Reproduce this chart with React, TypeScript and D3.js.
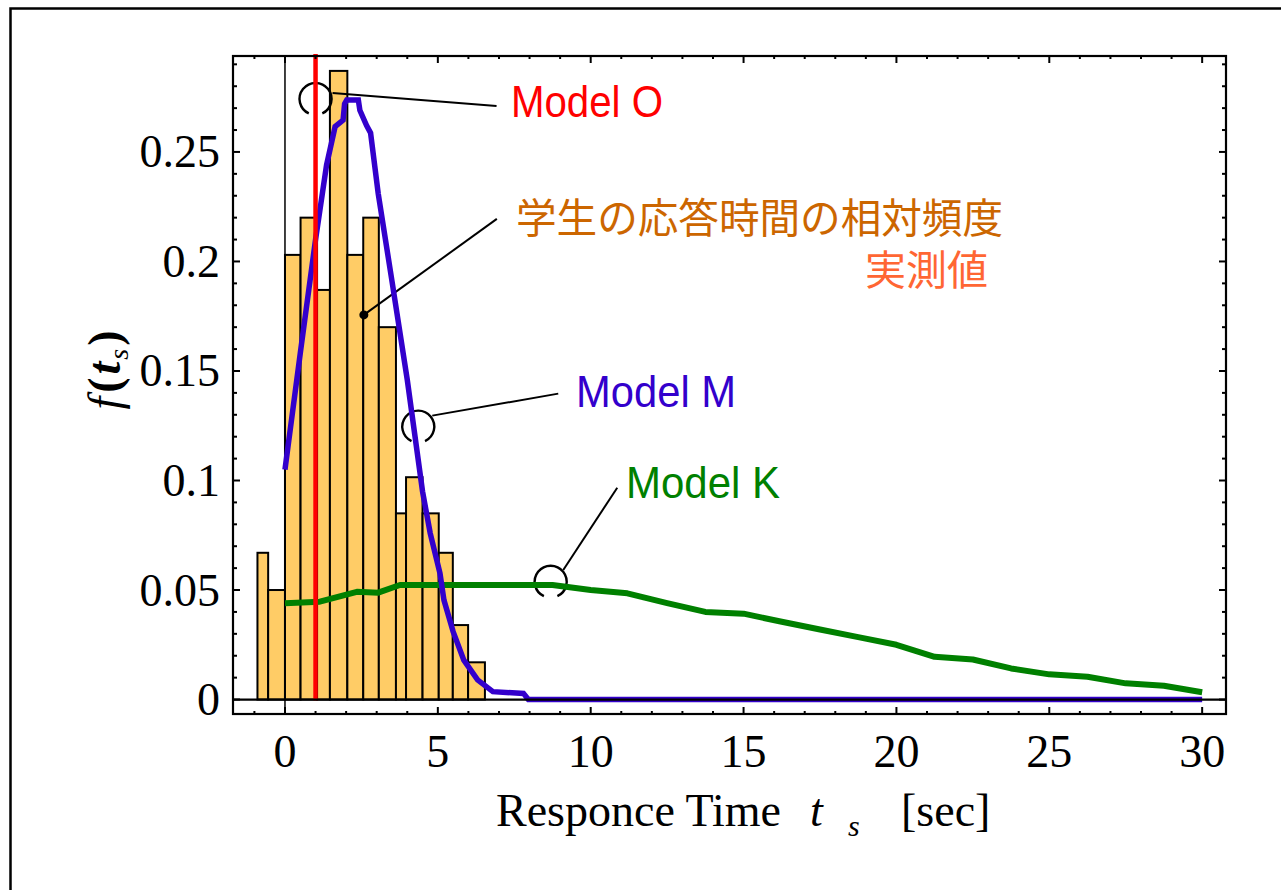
import { scaleLinear, line, range, path as d3path } from 'd3';

// histogram of measured response times (bin edges in sec, relative frequency)
const binEdges = [-0.9, -0.55, 0, 0.51, 1.05, 1.47, 2.04, 2.56, 3.07, 3.63, 3.96, 4.5, 5.03, 5.49, 5.99, 6.54];
const relFreq = [0.067, 0.05, 0.203, 0.22, 0.187, 0.287, 0.203, 0.22, 0.17, 0.085, 0.1015, 0.085, 0.067, 0.034, 0.017];

// Model M curve
const modelMT = [0, 0.5, 1.0, 1.36, 1.64, 1.9, 1.95, 2.02, 2.4, 2.45, 2.67, 2.8, 3.05, 3.5, 4.0, 4.5, 4.75, 5.07, 5.2, 5.5, 5.85, 6.3, 6.8, 7.8, 7.96, 30];
const modelMF = [0.105, 0.158, 0.21, 0.244, 0.2616, 0.2645, 0.272, 0.2737, 0.2737, 0.269, 0.262, 0.2587, 0.231, 0.191, 0.146, 0.095, 0.076, 0.0576, 0.0454, 0.031, 0.018, 0.009, 0.0036, 0.0028, 0, 0];

// Model K curve
const modelKT = [0, 1.14, 2.35, 3.05, 3.76, 8.75, 10, 11.2, 12.5, 13.75, 15, 16.25, 17.5, 18.75, 20, 21.25, 22.5, 23.75, 25, 26.25, 27.5, 28.75, 30];
const modelKF = [0.044, 0.0447, 0.0492, 0.0488, 0.0523, 0.0523, 0.05, 0.0485, 0.044, 0.04, 0.0392, 0.0355, 0.032, 0.0285, 0.025, 0.0195, 0.0183, 0.0142, 0.0115, 0.0104, 0.0074, 0.0063, 0.0033];

// Model O: single response time
const modelOT = 1.0;

const xTickLabels = [0, 5, 10, 15, 20, 25, 30];
const yTickLabels = [0, 0.05, 0.1, 0.15, 0.2, 0.25];

const W = 1281;
const H = 890;
const plot = { left: 233, top: 56, right: 1226, bottom: 714 };

const x = scaleLinear().domain([-1.7, 30.78]).range([plot.left, plot.right]);
const y = scaleLinear().domain([-0.0066, 0.2938]).range([plot.bottom, plot.top]);

const serif = '"Liberation Serif", "Times New Roman", serif';
const sans = '"Liberation Sans", Arial, sans-serif';
const cjk = '"Noto Sans CJK JP", sans-serif';

// open circle (gap at the bottom) used as annotation marker
function openCircle(cx: number, cy: number, r: number) {
    const p = d3path();
    const a0 = (115 * Math.PI) / 180;
    const a1 = ((65 + 360) * Math.PI) / 180;
    p.arc(cx, cy, r, a0, a1, false);
    return p.toString();
}

const callouts = [
    { t: 1.0, f: 0.2742, kind: 'circle', from: [17, -6], to: [181, 7] },
    { t: 2.58, f: 0.1756, kind: 'dot', from: [0, 0], to: [133, -96] },
    { t: 4.36, f: 0.1246, kind: 'circle', from: [14, -11], to: [140, -33] },
    { t: 8.69, f: 0.0538, kind: 'circle', from: [12.6, -11.7], to: [66.6, -94] },
];

export default function App() {
    const lineGen = line<[number, number]>()
        .x((d) => x(d[0]))
        .y((d) => y(d[1]));

    const mPath = lineGen(modelMT.map((t, i) => [t, modelMF[i]]));
    const kPath = lineGen(modelKT.map((t, i) => [t, modelKF[i]]));

    const xMinor = range(-1, 31, 1);
    const yMinor = range(0, 30).map((i) => i / 100);

    return (
        <svg
            width={W}
            height={H}
            style={{ position: 'absolute', left: 0, top: 0, display: 'block', background: '#fff' }}
        >
            {/* outer border, running off the page */}
            <rect x={10.5} y={8.5} width={1400} height={1000} fill='none' stroke='#000' strokeWidth={2.5} />

            {/* histogram */}
            {relFreq.map((v, i) => (
                <rect
                    key={`bin-${i}`}
                    x={x(binEdges[i])}
                    y={y(v)}
                    width={x(binEdges[i + 1]) - x(binEdges[i])}
                    height={y(0) - y(v)}
                    fill='#ffcc66'
                    stroke='#000'
                    strokeWidth={2}
                />
            ))}

            {/* t = 0 reference line */}
            <line x1={x(0)} x2={x(0)} y1={plot.top} y2={plot.bottom} stroke='#000' strokeWidth={1.5} />

            {/* callout markers and leader lines */}
            {callouts.map((c, i) => {
                const cx = x(c.t);
                const cy = y(c.f);
                return (
                    <g key={`co-${i}`}>
                        {c.kind === 'circle' ? (
                            <path d={openCircle(cx, cy, 16)} fill='none' stroke='#000' strokeWidth={2.4} />
                        ) : (
                            <circle cx={cx} cy={cy} r={4.5} fill='#000' />
                        )}
                        <line
                            x1={cx + c.from[0]}
                            y1={cy + c.from[1]}
                            x2={cx + c.to[0]}
                            y2={cy + c.to[1]}
                            stroke='#000'
                            strokeWidth={2}
                        />
                    </g>
                );
            })}

            {/* Model K */}
            <path d={kPath ?? ''} fill='none' stroke='#008000' strokeWidth={6} strokeLinejoin='round' />
            {/* Model M */}
            <path d={mPath ?? ''} fill='none' stroke='#3300cc' strokeWidth={5.5} strokeLinejoin='miter' />
            {/* Model O */}
            <line x1={x(modelOT)} x2={x(modelOT)} y1={plot.top - 2} y2={y(0) + 1} stroke='#ff0000' strokeWidth={4.5} />

            {/* zero line */}
            <line x1={plot.left} x2={plot.right} y1={y(0)} y2={y(0)} stroke='#000' strokeWidth={2.2} />

            {/* frame */}
            <rect
                x={plot.left}
                y={plot.top}
                width={plot.right - plot.left}
                height={plot.bottom - plot.top}
                fill='none'
                stroke='#000'
                strokeWidth={2.2}
            />

            {/* inward ticks */}
            {xMinor.map((t) => {
                const len = t % 5 === 0 ? 7 : 3;
                return (
                    <g key={`xt-${t}`}>
                        <line x1={x(t)} x2={x(t)} y1={plot.bottom} y2={plot.bottom - len} stroke='#000' strokeWidth={2} />
                        <line x1={x(t)} x2={x(t)} y1={plot.top} y2={plot.top + len} stroke='#000' strokeWidth={2} />
                    </g>
                );
            })}
            {yMinor.map((v, i) => {
                const len = i % 5 === 0 ? 7 : 4;
                return (
                    <g key={`yt-${i}`}>
                        <line x1={plot.left} x2={plot.left + len} y1={y(v)} y2={y(v)} stroke='#000' strokeWidth={2} />
                        <line x1={plot.right} x2={plot.right - len} y1={y(v)} y2={y(v)} stroke='#000' strokeWidth={2} />
                    </g>
                );
            })}

            {/* tick labels */}
            {xTickLabels.map((t) => (
                <text key={`xl-${t}`} x={x(t)} y={767} textAnchor='middle' fontFamily={serif} fontSize={46}>
                    {t}
                </text>
            ))}
            {yTickLabels.map((v) => (
                <text key={`yl-${v}`} x={220} y={y(v) + 15.5} textAnchor='end' fontFamily={serif} fontSize={46}>
                    {v}
                </text>
            ))}

            {/* axis titles */}
            <text x={496} y={826} fontFamily={serif} fontSize={46}>
                Responce Time
            </text>
            <text x={810} y={826} fontFamily={serif} fontSize={46} fontStyle='italic'>
                t
            </text>
            <text x={848} y={836} fontFamily={serif} fontSize={30} fontStyle='italic'>
                s
            </text>
            <text x={901} y={826} fontFamily={serif} fontSize={46}>
                [sec]
            </text>

            <g transform='translate(120, 370) rotate(-90)'>
                <text textAnchor='middle' fontFamily={serif} fontSize={46}>
                    <tspan fontStyle='italic'>f</tspan>
                    <tspan fontWeight='bold' dx={4}>(</tspan>
                    <tspan fontStyle='italic' fontWeight='bold' dx={3}>t</tspan>
                    <tspan fontStyle='italic' fontSize={28} dy={8} dx={2}>s</tspan>
                    <tspan fontWeight='bold' dy={-8} dx={3}>)</tspan>
                </text>
            </g>

            {/* annotation labels */}
            <text x={511} y={117} fontFamily={sans} fontSize={44} fill='#ff0000' textLength={152} lengthAdjust='spacingAndGlyphs'>
                Model O
            </text>
            <text x={516} y={215} dominantBaseline='central' fontFamily={cjk} fontSize={41} fill='#cc6600' textLength={487} lengthAdjust='spacingAndGlyphs'>
                学生の応答時間の相対頻度
            </text>
            <text x={988} y={267} dominantBaseline='central' textAnchor='end' fontFamily={cjk} fontSize={41} fill='#ff6633'>
                実測値
            </text>
            <text x={576} y={407} fontFamily={sans} fontSize={44} fill='#3300cc' textLength={160} lengthAdjust='spacingAndGlyphs'>
                Model M
            </text>
            <text x={626} y={498} fontFamily={sans} fontSize={44} fill='#008000' textLength={154} lengthAdjust='spacingAndGlyphs'>
                Model K
            </text>
        </svg>
    );
}
